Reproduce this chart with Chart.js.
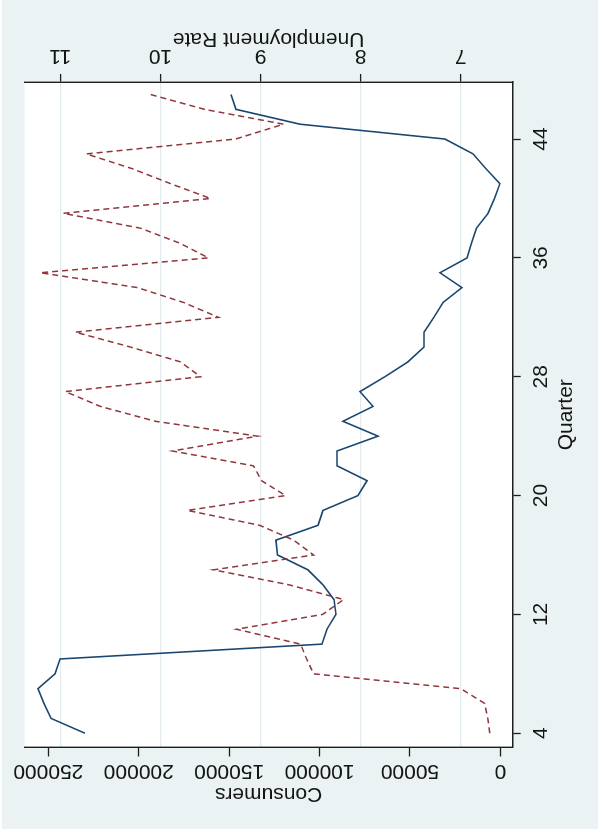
<!DOCTYPE html>
<html>
<head>
<meta charset="utf-8">
<title>Consumers and Unemployment Rate by Quarter</title>
<script src="https://cdn.jsdelivr.net/npm/chart.js@4.4.0/dist/chart.umd.min.js"></script>
<style>
  html, body { margin: 0; padding: 0; background: #ffffff; overflow: hidden; }
  /* The graph is laid out landscape and turned a quarter turn counter-clockwise */
  #wrap {
    position: absolute; left: 0; top: 0;
    width: 835px; height: 598px;
    transform-origin: 0 0;
    transform: translate(0px, 835px) rotate(-90deg);
  }
  canvas { display: block; }
</style>
</head>
<body>
<div id="wrap"><canvas id="chart" width="835" height="598" style="width:835px;height:598px"></canvas></div>
<script>
// Quarter index
const quarters = [4, 5, 6, 7, 8, 9, 10, 11, 12, 13, 14, 15, 16, 17, 18, 19, 20, 21, 22, 23, 24, 25,
                  26, 27, 28, 29, 30, 31, 32, 33, 34, 35, 36, 37, 38, 39, 40, 41, 42, 43, 44, 45, 46, 47];

// Number of consumers per quarter (left axis)
const consumers = [229700, 248500, 252400, 255700, 246300, 243500, 98600, 95900, 90900, 92000,
                   98100, 106400, 123200, 124100, 100800, 98100, 78700, 73700, 90300, 90300,
                   67600, 87000, 70400, 77600, 63800, 51100, 42200, 42200, 36700, 31700,
                   21200, 33400, 18400, 15900, 13200, 6800, 3200, 200, 7900, 15100,
                   30600, 110800, 146200, 149000];

// Unemployment rate per quarter (right axis)
const unemployment = [6.71, 6.73, 6.76, 7.00, 8.47, 8.54, 8.60, 9.24, 8.38, 8.17,
                      8.72, 9.47, 8.47, 8.67, 9.01, 9.73, 8.75, 8.99, 9.07, 9.88,
                      9.03, 10.05, 10.60, 10.95, 9.60, 9.80, 10.30, 10.85, 9.42, 9.77,
                      10.23, 11.20, 9.52, 9.81, 10.20, 10.97, 9.50, 9.90, 10.28, 10.74,
                      9.25, 8.77, 9.56, 10.10];

// Axis tick values
const quarterTicks = [4, 12, 20, 28, 36, 44];
const consumerTicks = [0, 50000, 100000, 150000, 200000, 250000];
const rateTicks = [7, 8, 9, 10, 11];

const NAVY = '#1a476f';
const MAROON = '#90353b';
const BG = '#eaf2f3';
const GRID = '#e2ebee';
const AXIS = '#1e1e1e';
const TEXT = '#151515';
const FONT = '21px "Liberation Sans", Arial, Helvetica, sans-serif';

const backgroundPlugin = {
  id: 'graphBackground',
  beforeDraw(chart) {
    const { ctx, chartArea: a, width, height } = chart;
    ctx.save();
    ctx.fillStyle = '#ffffff';
    ctx.fillRect(0, 0, width, height);
    ctx.fillStyle = BG;
    ctx.fillRect(6, 2, width - 6, height - 2);
    ctx.fillStyle = '#ffffff';
    ctx.fillRect(a.left, a.top, a.right - a.left, a.bottom - a.top);
    ctx.restore();
  }
};

// Tick labels and axis titles, with the vertical axes' text reading bottom to top
const labelPlugin = {
  id: 'axisText',
  afterDraw(chart) {
    const { ctx, chartArea: a, scales } = chart;
    const midX = (a.left + a.right) / 2;
    const midY = (a.top + a.bottom) / 2;
    ctx.save();
    ctx.font = FONT;
    ctx.fillStyle = TEXT;
    ctx.textBaseline = 'alphabetic';
    ctx.textAlign = 'center';

    quarterTicks.forEach(q => {
      ctx.fillText(String(q), scales.x.getPixelForValue(q), 546.7);
    });
    ctx.fillText('Quarter', midX, 572);

    const upright = (txt, x, y) => {
      ctx.save();
      ctx.translate(x, y);
      ctx.rotate(-Math.PI / 2);
      ctx.fillText(txt, 0, 0);
      ctx.restore();
    };
    consumerTicks.forEach(c => upright(String(c), 69.5, scales.yL.getPixelForValue(c)));
    upright('Consumers', 46.7, midY);
    rateTicks.forEach(r => upright(String(r), 785, scales.yR.getPixelForValue(r)));
    upright('Unemployment Rate', 801.7, midY);
    ctx.restore();
  }
};

const fixedTicks = list => scale => { scale.ticks = list.map(v => ({ value: v })); };

new Chart(document.getElementById('chart'), {
  type: 'line',
  data: {
    datasets: [
      {
        label: 'Consumers',
        data: quarters.map((q, i) => ({ x: q, y: consumers[i] })),
        yAxisID: 'yL',
        borderColor: NAVY,
        borderWidth: 1.6,
        pointRadius: 0,
        tension: 0,
        fill: false,
        order: 1
      },
      {
        label: 'Unemployment Rate',
        data: quarters.map((q, i) => ({ x: q, y: unemployment[i] })),
        yAxisID: 'yR',
        borderColor: MAROON,
        borderWidth: 1.5,
        borderDash: [6, 4],
        pointRadius: 0,
        tension: 0,
        fill: false,
        order: 0
      }
    ]
  },
  options: {
    responsive: false,
    animation: false,
    devicePixelRatio: 1,
    layout: { padding: { top: 24.5, left: 0, right: 0, bottom: 0 } },
    plugins: { legend: { display: false }, tooltip: { enabled: false } },
    scales: {
      x: {
        type: 'linear',
        position: 'bottom',
        min: 3.04,
        max: 47.84,
        afterBuildTicks: fixedTicks(quarterTicks),
        afterFit: s => { s.height = 85.3; },
        ticks: { display: false },
        grid: { drawOnChartArea: false, drawTicks: true, tickLength: 8, tickColor: AXIS, tickWidth: 1.3 },
        border: { display: true, color: AXIS, width: 1.4 }
      },
      yL: {
        type: 'linear',
        position: 'left',
        min: -6858,
        max: 263164,
        afterBuildTicks: fixedTicks(consumerTicks),
        afterFit: s => { s.width = 87.5; },
        ticks: { display: false },
        grid: { drawOnChartArea: false, drawTicks: true, tickLength: 9, tickColor: AXIS, tickWidth: 1.3 },
        border: { display: true, color: AXIS, width: 1.4 }
      },
      yR: {
        type: 'linear',
        position: 'right',
        min: 6.481,
        max: 11.358,
        afterBuildTicks: fixedTicks(rateTicks),
        afterFit: s => { s.width = 82; },
        ticks: { display: false },
        grid: { drawOnChartArea: true, color: GRID, lineWidth: 1.2, drawTicks: true, tickLength: 8, tickColor: AXIS, tickWidth: 1.3 },
        border: { display: true, color: AXIS, width: 1.4 }
      }
    }
  },
  plugins: [backgroundPlugin, labelPlugin]
});
</script>
</body>
</html>
